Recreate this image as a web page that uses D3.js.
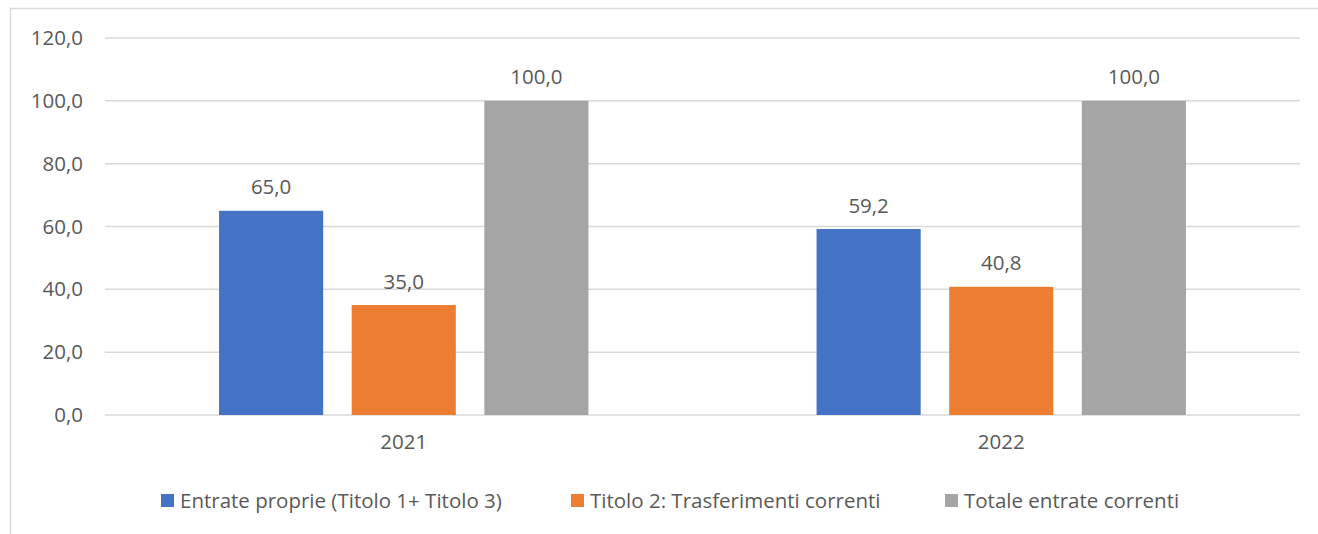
<!DOCTYPE html>
<html><head><meta charset="utf-8">
<script src="https://cdn.jsdelivr.net/npm/d3@7"></script>
<style>body{margin:0;background:#fff}svg{display:block}text{font-family:"Open Sans",sans-serif;fill:#595959}</style>
</head><body><svg id="c" width="1318" height="534"></svg>
<script>
const categories = ["2021", "2022"];
const seriesNames = ["Entrate proprie (Titolo 1+ Titolo 3)", "Titolo 2: Trasferimenti correnti", "Totale entrate correnti"];
const entrateProprie = [65.0, 59.2];
const trasferimenti = [35.0, 40.8];
const totale = [100.0, 100.0];
const yTicks = [0, 20, 40, 60, 80, 100, 120];
const colors = ["#4472C4", "#ED7D31", "#A5A5A5"];
const seriesValues = [entrateProprie, trasferimenti, totale];

const FS = "20.5px";
const svg = d3.select("#c");
const fmt = v => v.toFixed(1).replace(".", ",");
svg.append("rect").attr("x",10.5).attr("y",8.5).attr("width",1318).attr("height",540).attr("fill","none").attr("stroke","#d9d9d9").attr("stroke-width",1.5);

const x0 = d3.scaleBand().domain(categories).range([105, 1300]);
const x1 = d3.scaleBand().domain(d3.range(3)).range([0, x0.bandwidth()]).paddingInner(0.215).paddingOuter(0.86);
const y = d3.scaleLinear().domain([0, 120]).range([415, 38]);

const grid = svg.append("g");
grid.selectAll("line").data(yTicks).join("line")
  .attr("x1",105).attr("x2",1300).attr("y1",d=>y(d)).attr("y2",d=>y(d))
  .attr("stroke","#d9d9d9").attr("stroke-width",1.5);
const yAxis = d3.axisLeft(y).tickValues(yTicks).tickFormat(fmt).tickSize(0).tickPadding(0);
svg.append("g").attr("transform","translate(83,0)").call(yAxis)
  .call(g=>g.select(".domain").remove())
  .call(g=>g.selectAll("text").style("font-size",FS).attr("fill","#595959").attr("font-family","Open Sans"));

const xAxis = d3.axisBottom(x0).tickSize(0).tickPadding(0);
svg.append("g").attr("transform","translate(0,434)").call(xAxis)
  .call(g=>g.select(".domain").remove())
  .call(g=>g.selectAll("text").style("font-size",FS).attr("fill","#595959").attr("font-family","Open Sans"));

const groups = svg.append("g").selectAll("g").data(categories).join("g")
  .attr("transform", d=>`translate(${x0(d)},0)`);
groups.each(function(cat, ci){
  const g = d3.select(this);
  seriesValues.forEach((vals, si) => {
    const v = vals[ci];
    g.append("rect").attr("x", x1(si)).attr("width", x1.bandwidth())
      .attr("y", y(v)).attr("height", y(0)-y(v)).attr("fill", colors[si]);
    g.append("text").attr("x", x1(si)+x1.bandwidth()/2).attr("y", y(v)-16.5)
      .attr("text-anchor","middle").style("font-size",FS).text(fmt(v));
  });
});

const legendX = [161, 571, 945];
const lg = svg.append("g");
seriesNames.forEach((n,i)=>{
  lg.append("rect").attr("x",legendX[i]).attr("y",494).attr("width",13).attr("height",13).attr("fill",colors[i]);
  lg.append("text").attr("x",legendX[i]+19).attr("y",507.5).style("font-size",FS).text(n);
});
</script></body></html>
